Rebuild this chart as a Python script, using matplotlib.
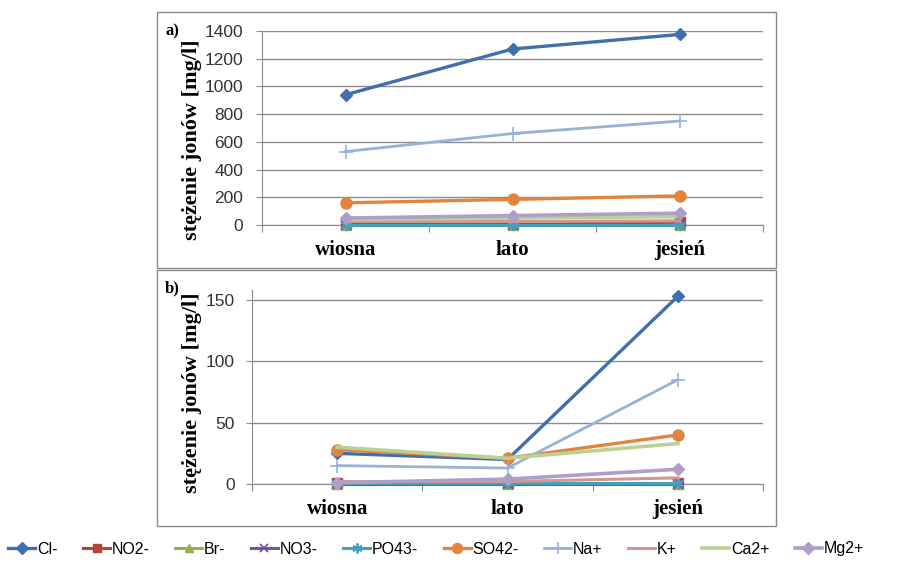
import matplotlib
matplotlib.use("Agg")
import matplotlib.pyplot as plt
from matplotlib.patches import Rectangle
from matplotlib.lines import Line2D

seasons = ["wiosna", "lato", "jesień"]
ions = ["Cl-", "NO2-", "Br-", "NO3-", "PO43-", "SO42-", "Na+", "K+", "Ca2+", "Mg2+"]

# panel a) values [mg/l]
a_cl = [940, 1270, 1375]
a_no2 = [5, 5, 20]
a_br = [0, 0, 0]
a_no3 = [0, 0, 0]
a_po4 = [1, 1, 1]
a_so4 = [160, 185, 210]
a_na = [530, 660, 750]
a_k = [25, 25, 30]
a_ca = [40, 50, 60]
a_mg = [50, 68, 85]

# panel b) values [mg/l]
b_cl = [25, 20, 153]
b_no2 = [1, 1, 1]
b_br = [0, 0, 0]
b_no3 = [0, 0, 0]
b_po4 = [0.5, 0.5, 0.5]
b_so4 = [28, 21, 40]
b_na = [15, 13, 85]
b_k = [2, 2, 5]
b_ca = [30, 21, 33]
b_mg = [1, 4, 12]

a_yticks = [0, 200, 400, 600, 800, 1000, 1200, 1400]
b_yticks = [0, 50, 100, 150]

styles = {
    "Cl-":   dict(color="#3F70AD", marker="D", ms=6.5, lw=2.4),
    "NO2-":  dict(color="#B8403D", marker="s", ms=6.5, lw=2.2),
    "Br-":   dict(color="#8FB04A", marker="^", ms=7, lw=2.2),
    "NO3-":  dict(color="#72589A", marker="x", ms=6.5, lw=2.2, mew=1.3),
    "PO43-": dict(color="#3FA3BE", marker=(6, 2, 0), ms=8, lw=2.2, mew=1.3),
    "SO42-": dict(color="#E2843E", marker="o", ms=8, lw=2.4),
    "Na+":   dict(color="#96B2D8", marker="+", ms=10, lw=2.0, mew=1.2),
    "K+":    dict(color="#D69492", marker="None", ms=0, lw=2.2),
    "Ca2+":  dict(color="#B9D293", marker="None", ms=0, lw=2.6),
    "Mg2+":  dict(color="#AE9FC8", marker="D", ms=6.5, lw=2.6),
}

a_data = [a_cl, a_no2, a_br, a_no3, a_po4, a_so4, a_na, a_k, a_ca, a_mg]
b_data = [b_cl, b_no2, b_br, b_no3, b_po4, b_so4, b_na, b_k, b_ca, b_mg]

W, H = 918, 562
fig = plt.figure(figsize=(W / 100, H / 100), dpi=100)

def fx(px):
    return px / W

def fy(py):
    return 1 - py / H

tick_font = ["Liberation Sans Narrow", "Liberation Sans", "DejaVu Sans"]
serif = ["Liberation Serif", "DejaVu Serif"]

# panel frames
for (x0, y0, x1, y1) in [(157, 12, 776, 268), (157, 270, 776, 526)]:
    fig.patches.append(Rectangle((fx(x0), fy(y1)), fx(x1 - x0), (y1 - y0) / H,
                                 transform=fig.transFigure, fill=False,
                                 edgecolor="#8a8a8a", lw=1.0))

def setup(ax, data, yticks, ylim, ypad):
    x = list(range(len(seasons)))
    for name, vals in zip(ions, data):
        st = styles[name]
        ax.plot(x, vals, color=st["color"], marker=st["marker"],
                markersize=st["ms"], lw=st["lw"],
                markeredgewidth=st.get("mew", 1.0),
                markeredgecolor=st["color"], markerfacecolor=st["color"],
                label=name, clip_on=False, zorder=3)
    ax.set_xlim(-0.5, len(seasons) - 0.5)
    ax.set_ylim(*ylim)
    ax.set_yticks(yticks)
    ax.set_yticklabels([str(t) for t in yticks], family=tick_font, fontsize=12.5,
                       color="#333333")
    ax.yaxis.grid(True, color="#8c8c8c", lw=1.0)
    ax.set_axisbelow(True)
    ax.set_xticks([-0.5, 0.5, 1.5, 2.5])
    ax.set_xticklabels([])
    ax.set_xticks(x, minor=True)
    ax.set_xticklabels(seasons, minor=True, family=serif, fontweight="bold",
                       fontsize=15)
    ax.tick_params(axis="x", which="minor", length=0, pad=11)
    ax.tick_params(axis="x", which="major", length=5, color="#8c8c8c", direction="out")
    ax.tick_params(axis="y", length=4.5, color="#8c8c8c", pad=ypad)
    for s in ["top", "right"]:
        ax.spines[s].set_visible(False)
    ax.spines["left"].set_color("#8c8c8c")
    ax.spines["bottom"].set_color("#8c8c8c")
    ax.set_ylabel("stężenie jonów [mg/l]", family=serif, fontweight="bold",
                  fontsize=16)

# panel a
ax_a = fig.add_axes([fx(262), fy(225), fx(763 - 262), (225 - 31) / H])
setup(ax_a, a_data, a_yticks, (0, 1400), 9)
ax_a.yaxis.set_label_coords(fx(202 - 262) / fx(763 - 262), 0.44)

# panel b
top_b = 484 - 158 * (184 / 150)
ax_b = fig.add_axes([fx(252), fy(484), fx(763 - 252), (484 - top_b) / H])
setup(ax_b, b_data, b_yticks, (0, 158), 8)
ax_b.yaxis.set_label_coords(fx(202 - 252) / fx(763 - 252), 0.47)

fig.text(fx(165), fy(31), "a)", family=serif, fontweight="bold", fontsize=12,
         va="center", ha="left")
fig.text(fx(165), fy(288), "b)", family=serif, fontweight="bold", fontsize=12,
         va="center", ha="left")

leg_handles = []
for name in ions:
    st = styles[name]
    leg_handles.append(Line2D([], [], color=st["color"], marker=st["marker"],
                              markersize=st["ms"] * 0.9, lw=st["lw"],
                              markeredgewidth=st.get("mew", 1.0),
                              markeredgecolor=st["color"],
                              markerfacecolor=st["color"]))
fig.legend(leg_handles, ions, loc="center", bbox_to_anchor=(fx(436), fy(549)),
           ncol=10, frameon=False, handlelength=1.7, handletextpad=0.1,
           columnspacing=1.6, prop=dict(family=tick_font, size=11.5))

fig.savefig("out.png", dpi=100)
